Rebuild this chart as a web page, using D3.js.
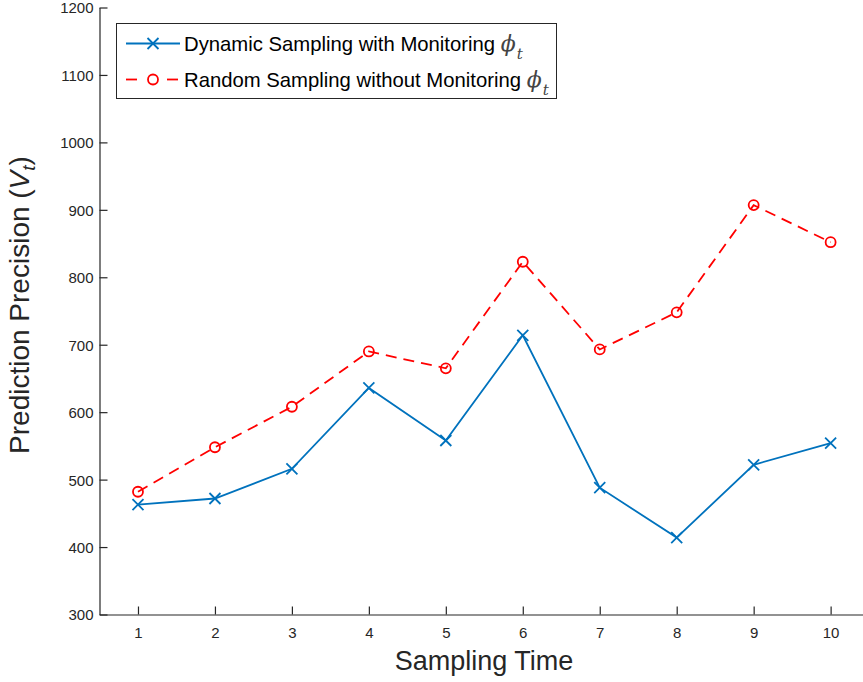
<!DOCTYPE html>
<html>
<head>
<meta charset="utf-8">
<script src="https://cdn.jsdelivr.net/npm/d3@7"></script>
<style>
  html, body { margin: 0; padding: 0; background: #fff; }
  svg { display: block; font-family: "Liberation Sans", Arial, sans-serif; }
</style>
</head>
<body>
<svg id="chart" width="863" height="682"></svg>
<script>
// Sampling instants and the two precision series
const samplingTimes = [1, 2, 3, 4, 5, 6, 7, 8, 9, 10];
const dynamicWithMonitoring = [463, 472, 516, 636, 558, 714, 488, 414, 522, 554];
const randomWithoutMonitoring = [482, 548, 608, 690, 665, 823, 693, 748, 907, 852];
const yTicks = [300, 400, 500, 600, 700, 800, 900, 1000, 1100, 1200];
const seriesNames = ["Dynamic Sampling with Monitoring", "Random Sampling without Monitoring"];

const svg = d3.select("#chart");
const axisColor = "#262626";
const blue = "#0072BD";
const red = "#FF0000";
const fontFamily = "'Liberation Sans', Arial, sans-serif";

const plotLeft = 99.5, plotBottom = 614.5, plotTop = 7.5;
const x = d3.scaleLinear().domain([0.5, 10.5]).range([plotLeft, plotLeft + 76.96 * 10]);
const y = d3.scaleLinear().domain([300, 1200]).range([plotBottom, plotTop]);

// Axes (ticks pointing inward)
const xAxis = svg.append("g")
  .attr("transform", `translate(0,${plotBottom})`)
  .call(d3.axisBottom(x).tickValues(samplingTimes).tickFormat(d3.format("d"))
    .tickSizeInner(-8).tickSizeOuter(0).tickPadding(14));
const yAxis = svg.append("g")
  .attr("transform", `translate(${plotLeft},0)`)
  .call(d3.axisLeft(y).tickValues(yTicks).tickFormat(d3.format("d"))
    .tickSizeInner(-8).tickSizeOuter(0).tickPadding(6));

[xAxis, yAxis].forEach(g => {
  g.selectAll("path.domain").attr("stroke", axisColor).attr("stroke-width", 1.2);
  g.selectAll(".tick line").attr("stroke", axisColor).attr("stroke-width", 1.2);
  g.selectAll(".tick text").attr("fill", axisColor).style("font-size", "15px")
    .style("font-family", fontFamily);
});
xAxis.selectAll(".tick text").attr("dy", "0.6em");
yAxis.selectAll(".tick text").attr("dy", "0.36em");

// Axis titles
svg.append("text")
  .attr("x", 484).attr("y", 670)
  .attr("text-anchor", "middle")
  .attr("fill", axisColor)
  .style("font-size", "27px")
  .text("Sampling Time");

const yTitle = svg.append("text")
  .attr("transform", "translate(29,305) rotate(-90)")
  .attr("text-anchor", "middle")
  .attr("fill", axisColor)
  .style("font-size", "28px");
yTitle.append("tspan").text("Prediction Precision (");
yTitle.append("tspan").style("font-style", "italic").text("V");
yTitle.append("tspan").attr("dy", 6).style("font-size", "19px").style("font-style", "italic").text("t");
yTitle.append("tspan").attr("dy", -6).text(")");

// Series lines
const line = d3.line().x((d, i) => x(samplingTimes[i])).y(d => y(d));

svg.append("path").datum(randomWithoutMonitoring)
  .attr("d", line).attr("fill", "none")
  .attr("stroke", red).attr("stroke-width", 1.8)
  .attr("stroke-dasharray", "11,7");

svg.append("path").datum(dynamicWithMonitoring)
  .attr("d", line).attr("fill", "none")
  .attr("stroke", blue).attr("stroke-width", 1.8);

// Markers
const crossPath = (s) => `M${-s},${-s}L${s},${s}M${-s},${s}L${s},${-s}`;

svg.append("g").selectAll("path")
  .data(dynamicWithMonitoring)
  .join("path")
  .attr("transform", (d, i) => `translate(${x(samplingTimes[i])},${y(d)})`)
  .attr("d", crossPath(5.5))
  .attr("stroke", blue).attr("stroke-width", 1.8).attr("fill", "none");

svg.append("g").selectAll("circle")
  .data(randomWithoutMonitoring)
  .join("circle")
  .attr("cx", (d, i) => x(samplingTimes[i]))
  .attr("cy", d => y(d))
  .attr("r", 5)
  .attr("stroke", red).attr("stroke-width", 1.8).attr("fill", "none");

// Legend
const legend = svg.append("g");
legend.append("rect")
  .attr("x", 116.5).attr("y", 23.5).attr("width", 440).attr("height", 75)
  .attr("fill", "#fff").attr("stroke", axisColor).attr("stroke-width", 1);

const rows = [
  { name: seriesNames[0], color: blue, dashed: false, marker: "cross", yPos: 43.5 },
  { name: seriesNames[1], color: red, dashed: true, marker: "circle", yPos: 79.5 }
];
rows.forEach(r => {
  const segs = r.dashed ? [[126, 137], [167, 178]] : [[126, 180]];
  segs.forEach(([a, b]) => {
    legend.append("line")
      .attr("x1", a).attr("x2", b).attr("y1", r.yPos).attr("y2", r.yPos)
      .attr("stroke", r.color).attr("stroke-width", 1.8);
  });
  if (r.marker === "cross") {
    legend.append("path")
      .attr("transform", `translate(153,${r.yPos})`)
      .attr("d", crossPath(5.5))
      .attr("stroke", r.color).attr("stroke-width", 1.8).attr("fill", "none");
  } else {
    legend.append("circle")
      .attr("cx", 153).attr("cy", r.yPos).attr("r", 5)
      .attr("stroke", r.color).attr("stroke-width", 1.8).attr("fill", "none");
  }
  const t = legend.append("text")
    .attr("x", 184).attr("y", r.yPos + 7)
    .attr("fill", "#000")
    .style("font-size", "20.3px");
  t.append("tspan").text(r.name + " ");
  t.append("tspan").style("font-family", "'DejaVu Serif', serif").style("font-style", "italic")
    .style("font-size", "22px").attr("fill", "#444").text("\u03D5");
  t.append("tspan").attr("dy", 8).attr("dx", 1).style("font-size", "15px").style("font-style", "italic")
    .style("font-family", "'DejaVu Serif', serif").attr("fill", "#444").text("t");
});
</script>
</body>
</html>
